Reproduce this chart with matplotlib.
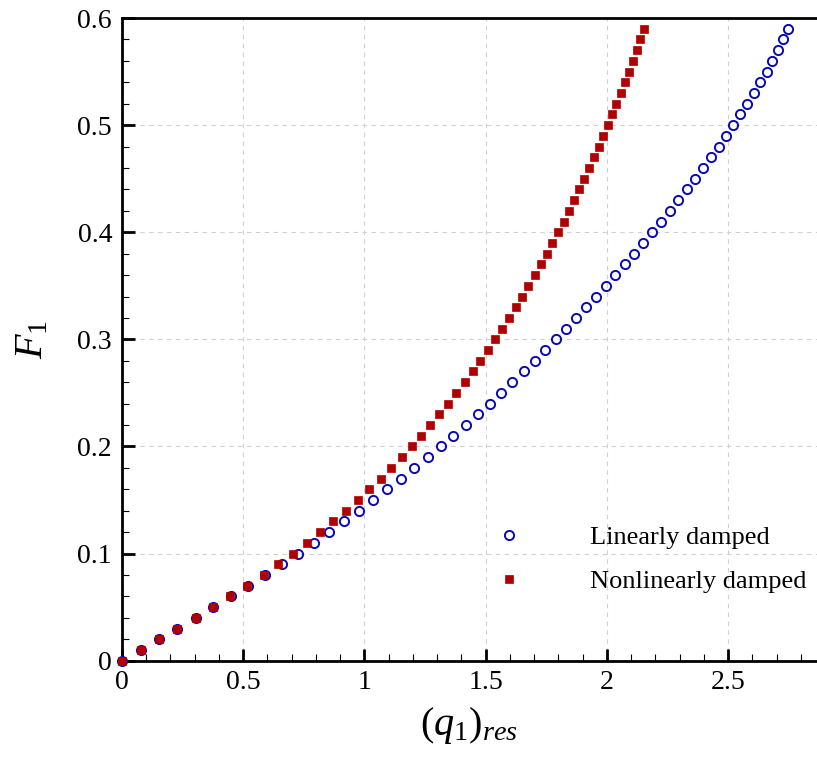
import matplotlib
matplotlib.use("Agg")
import matplotlib.pyplot as plt

plt.rcParams['font.family'] = ['Liberation Serif', 'DejaVu Serif']
plt.rcParams['mathtext.fontset'] = 'custom'
plt.rcParams['mathtext.rm'] = 'Liberation Serif'
plt.rcParams['mathtext.it'] = 'Liberation Serif:italic'

# Force amplitude F1 (0 to 0.59, step 0.01)
F1 = [round(0.01 * i, 2) for i in range(60)]

# Resonant amplitude, linearly damped
q_linear = [0.000, 0.078, 0.154, 0.229, 0.305, 0.378, 0.449, 0.519, 0.589, 0.659,
            0.727, 0.791, 0.854, 0.916, 0.977, 1.036, 1.095, 1.151, 1.207, 1.261,
            1.315, 1.367, 1.418, 1.467, 1.517, 1.565, 1.611, 1.657, 1.702, 1.747,
            1.790, 1.833, 1.875, 1.915, 1.956, 1.996, 2.035, 2.075, 2.112, 2.150,
            2.186, 2.223, 2.259, 2.294, 2.329, 2.363, 2.396, 2.429, 2.462, 2.492,
            2.522, 2.551, 2.579, 2.606, 2.632, 2.660, 2.682, 2.705, 2.727, 2.749]

# Resonant amplitude, nonlinearly damped
q_nonlinear = [0.000, 0.078, 0.154, 0.229, 0.305, 0.376, 0.446, 0.515, 0.585, 0.645,
               0.706, 0.764, 0.817, 0.872, 0.925, 0.975, 1.021, 1.069, 1.111, 1.155,
               1.198, 1.234, 1.272, 1.309, 1.345, 1.379, 1.415, 1.449, 1.478, 1.511,
               1.539, 1.569, 1.598, 1.627, 1.650, 1.675, 1.705, 1.730, 1.753, 1.775,
               1.798, 1.824, 1.845, 1.866, 1.886, 1.907, 1.928, 1.948, 1.969, 1.985,
               2.006, 2.022, 2.039, 2.059, 2.076, 2.092, 2.109, 2.125, 2.137, 2.154]

W, H = 817, 759
fig = plt.figure(figsize=(W / 100, H / 100), dpi=100)
left = 121.8 / W
bottom = 1 - 660.7 / H
top = 1 - 18.0 / H
ax = fig.add_axes([left, bottom, 1 - left, top - bottom])

ax.plot(q_linear, F1, linestyle='none', marker='o', markersize=6.6,
        markerfacecolor='none', markeredgecolor='#0a0ab4', markeredgewidth=1.4,
        label='Linearly damped', clip_on=False, zorder=5)
ax.plot(q_nonlinear, F1, linestyle='none', marker='s', markersize=5.4,
        markerfacecolor='#b00000', markeredgecolor='#b00000', markeredgewidth=0.5,
        label='Nonlinearly damped', clip_on=False, zorder=6)

ax.set_xlim(0, 2.867)
ax.set_ylim(0, 0.6)
ax.set_xticks([0, 0.5, 1, 1.5, 2, 2.5])
ax.set_xticklabels(['0', '0.5', '1', '1.5', '2', '2.5'])
ax.set_yticks([0, 0.1, 0.2, 0.3, 0.4, 0.5, 0.6])
ax.set_yticklabels(['0', '0.1', '0.2', '0.3', '0.4', '0.5', '0.6'])
ax.set_xticks([i * 0.1 for i in range(29) if i % 5 != 0], minor=True)
ax.set_yticks([i * 0.02 for i in range(31) if i % 5 != 0], minor=True)

ax.tick_params(which='major', direction='in', length=9, width=2.0, labelsize=20,
               top=False, right=False)
ax.tick_params(which='minor', direction='in', length=5, width=0.8,
               top=False, right=False)
ax.tick_params(axis='y', which='major', pad=7)
ax.tick_params(axis='x', which='major', pad=7)

for s in ['left', 'bottom', 'top']:
    ax.spines[s].set_linewidth(2.0)
ax.spines['right'].set_visible(False)

ax.grid(True, which='major', color='#d0d0d0', linestyle=(0, (4, 4)), linewidth=0.8)
ax.set_axisbelow(True)

ax.set_xlabel(r'$(q_1)_{res}$', fontsize=29, labelpad=7)
ax.set_ylabel(r'$F_1$', fontsize=29, labelpad=19)

leg = ax.legend(loc='upper left', bbox_to_anchor=(496 / W, 1 - 526 / H),
                bbox_transform=fig.transFigure, frameon=False, fontsize=19,
                handlelength=1.0, handletextpad=2.55, labelspacing=0.75,
                borderpad=0, borderaxespad=0)

fig.savefig('out.png', dpi=100)
